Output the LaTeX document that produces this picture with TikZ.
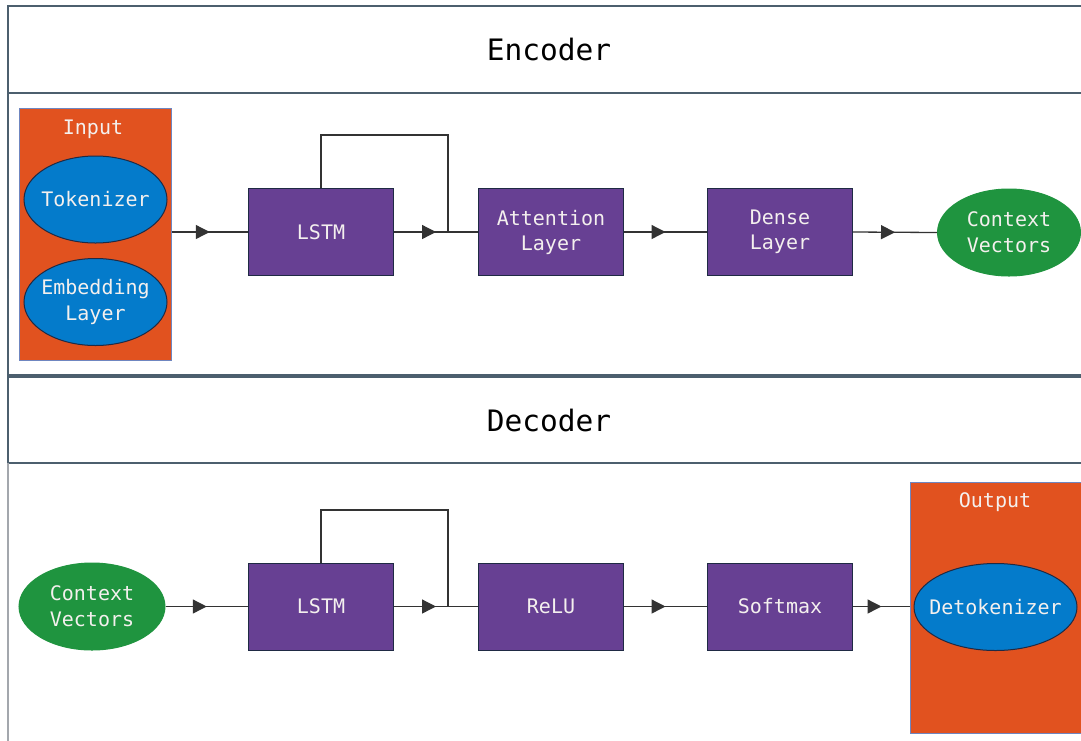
\documentclass[tikz,border=0pt]{standalone}
\usepackage{fontspec}
\setmonofont{DejaVu Sans Mono}
\usetikzlibrary{shapes.geometric,arrows.meta,decorations.markings,calc}

\definecolor{panelline}{HTML}{4C5F6E}
\definecolor{panelgray}{HTML}{A3A7AD}
\definecolor{grpfill}{HTML}{E1521F}
\definecolor{grpline}{HTML}{6F86C0}
\definecolor{layerfill}{HTML}{674093}
\definecolor{layerline}{HTML}{1F2A44}
\definecolor{blobblue}{HTML}{047BCB}
\definecolor{blobgreen}{HTML}{1F943F}
\definecolor{wire}{HTML}{333333}
\definecolor{labeltxt}{HTML}{F4F0EE}

\tikzset{
  layerbox/.style={draw=layerline, line width=1pt, fill=layerfill,
    minimum width=145pt, minimum height=87pt, inner sep=0pt,
    text=labeltxt, font=\ttfamily\fontsize{20}{25}\selectfont, align=center},
  blob/.style={ellipse, draw=layerline, line width=1pt,
    minimum width=143pt, minimum height=87pt, inner xsep=-30pt, inner ysep=0pt,
    text=labeltxt, font=\ttfamily\fontsize{20}{26}\selectfont, align=center},
  bluebl/.style={blob, fill=blobblue},
  greenbl/.style={blob, fill=blobgreen, draw=blobgreen},
  group/.style={draw=grpline, line width=1pt, fill=grpfill, inner sep=0pt},
  grouplabel/.style={text=labeltxt, font=\ttfamily\fontsize{20}{24}\selectfont},
  title/.style={font=\ttfamily\fontsize{29.5}{34}\selectfont, text=black},
  flow/.style={draw=wire, line width=1.3pt,
    postaction={decorate},
    decoration={markings, mark=at position 0.5 with
      {\arrow{Triangle[length=14pt,width=14pt]}}}},
  loopline/.style={draw=wire, line width=1.2pt},
  panel/.style={draw=panelline, line width=1.6pt},
}

\begin{document}
\begin{tikzpicture}[x=1pt, y=-1pt]
\useasboundingbox[fill=white] (0,0) rectangle (1081,740);

% ---------- Encoder panel ----------
\draw[panel] (1095,6) -- (8,6) -- (8,375) -- (1095,375);
\draw[panel] (8,93) -- (1095,93);
\node[title] (enctitle) at (549,49) {Encoder};

% input group
\node[group, minimum width=152pt, minimum height=252pt] (input) at (95,234) {};
\node[grouplabel] (inputlbl) at (93,129) {Input};
\node[bluebl] (tok) at (95.5,199.5) {Tokenizer};
\node[bluebl] (emb) at (95.5,302) {Embedding\\Layer};

\node[layerbox] (elstm) at (321,232) {LSTM};
\node[layerbox] (att) at (551,232) {Attention\\Layer};
\node[layerbox] (dense) at (780,232) {Dense\\Layer};
\node[greenbl] (ectx) at (1009,232.5) {Context\\Vectors};

\coordinate (ejoin) at (448,232);
\draw[flow] (input.east |- elstm.west) -- (elstm.west);
\draw[flow] (elstm.east) -- (att.west);
\draw[loopline] (elstm.north) -- (321,135) -| (ejoin);
\draw[flow] (att.east) -- (dense.west);
\draw[flow] (dense.east) -- (ectx.west);

% ---------- Decoder panel ----------
\draw[panel] (1095,377) -- (8,377) -- (8,463) -- (1095,463);
\draw[panelgray, line width=1.6pt] (8,463) -- (8,745);
\node[title] (dectitle) at (549,420) {Decoder};

\node[greenbl, minimum width=146pt] (dctx) at (92,606.5) {Context\\Vectors};
\node[layerbox] (dlstm) at (321,606.5) {LSTM};
\node[layerbox] (relu) at (551,606.5) {ReLU};
\node[layerbox] (soft) at (780,606.5) {Softmax};

% output group
\node[group, anchor=north west, minimum width=190pt, minimum height=251pt] (output) at (910,482) {};
\node[grouplabel] (outputlbl) at (995,502) {Output};
\node[bluebl, minimum width=163pt] (detok) at (995.5,607) {Detokenizer};

\coordinate (djoin) at (448,606.5);
\draw[flow] (dctx.east) -- (dlstm.west);
\draw[flow] (dlstm.east) -- (relu.west);
\draw[loopline] (dlstm.north) -- (321,510) -| (djoin);
\draw[flow] (relu.east) -- (soft.west);
\draw[flow] (soft.east) -- (output.west |- soft.east);
\end{tikzpicture}
\end{document}
